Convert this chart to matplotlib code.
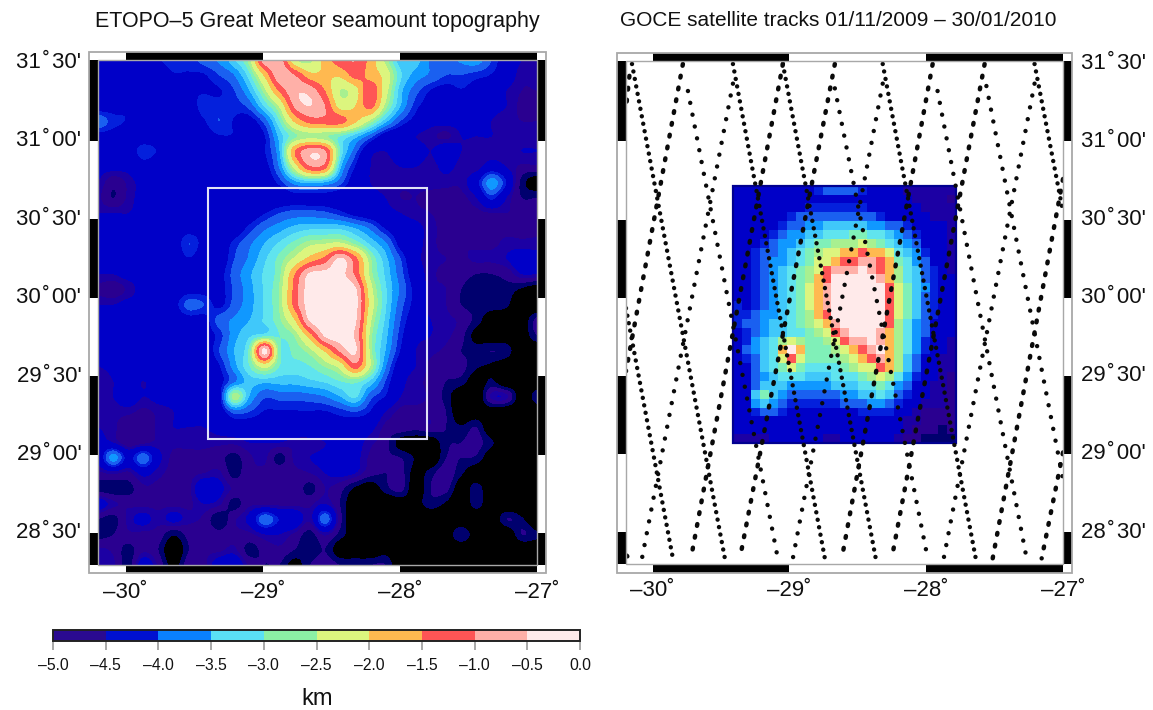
import numpy as np
import matplotlib
matplotlib.use("Agg")
import matplotlib.pyplot as plt
from matplotlib.colors import ListedColormap, BoundaryNorm
from matplotlib.patches import Rectangle
from matplotlib.colorbar import ColorbarBase

plt.rcParams['font.family'] = ['Liberation Sans', 'DejaVu Sans']

W, H = 1153, 710

title_left = "ETOPO–5 Great Meteor seamount topography"
title_right = "GOCE satellite tracks 01/11/2009 – 30/01/2010"
lon_ticks = [-30, -29, -28, -27]
lon_labels = ["–30˚", "–29˚", "–28˚", "–27˚"]
lat_ticks = [31.5, 31.0, 30.5, 30.0, 29.5, 29.0, 28.5]
lat_labels = ["31\u200a˚\u200a30'", "31\u200a˚\u200a00'", "30\u200a˚\u200a30'", "30\u200a˚\u200a00'",
              "29\u200a˚\u200a30'", "29\u200a˚\u200a00'", "28\u200a˚\u200a30'"]
cbar_ticks = [-5.0, -4.5, -4.0, -3.5, -3.0, -2.5, -2.0, -1.5, -1.0, -0.5, 0.0]
cbar_labels = ["–5.0", "–4.5", "–4.0", "–3.5", "–3.0", "–2.5", "–2.0", "–1.5", "–1.0", "–0.5", "0.0"]
cbar_colors = ["#2a0a90", "#0010d0", "#0a80ff", "#5ae0f5", "#8cf0a5", "#dcf57e",
               "#ffb950", "#ff5555", "#ffb0a8", "#ffeaea"]

map_levels = [-5.25, -5.0, -4.75, -4.6, -4.18, -4.0, -3.75, -3.5, -3.25, -3.0, -2.75,
              -2.5, -2.0, -1.5, -1.0, -0.5, 0.0]
map_colors = ["#00006e", "#2a0090", "#1c00a4", "#0000c8", "#0420dc", "#1a60f0", "#1098ff",
              "#40c8fa", "#60e4ee", "#80f0b8", "#a8f090", "#dcf57e", "#ffb950", "#ff5555",
              "#ffb0a8", "#ffeaea"]

box_lon = [-29.4, -27.8]
box_lat = [29.1, 30.7]

# depth in km, north to south, west to east
depth_km = [
 [-4.4,-4.3,-4.3,-4.3,-4.2,-4.1,-4.1,-3.9,-3.7,-3.3,-2.6,-0.7,-0.7,-2.4,-2.6,-1.8,-1.2,-1.0,-1.7,-2.6,-3.4,-3.4,-3.8,-3.85,-3.7,-3.6,-4.0,-4.4,-4.6,-4.7],
 [-4.5,-4.3,-4.3,-4.3,-4.3,-4.2,-4.2,-4.2,-4.0,-3.75,-3.1,-1.9,-0.6,-1.0,-1.8,-1.9,-1.9,-1.3,-1.7,-2.2,-3.2,-3.6,-3.8,-4.0,-4.0,-4.1,-4.2,-4.4,-4.7,-4.7],
 [-4.5,-4.3,-4.2,-4.3,-4.3,-4.3,-4.2,-4.2,-4.2,-4.0,-3.5,-2.6,-1.4,-0.6,-0.7,-1.5,-2.5,-2.2,-1.1,-2.3,-3.4,-3.9,-4.2,-4.3,-4.2,-4.3,-4.4,-4.6,-4.75,-4.75],
 [-4.4,-4.3,-4.2,-4.3,-4.3,-4.3,-4.3,-4.1,-4.1,-4.1,-3.9,-3.2,-2.4,-0.9,-0.5,-1.0,-2.2,-2.0,-1.3,-2.6,-3.5,-4.1,-4.3,-4.4,-4.3,-4.3,-4.5,-4.6,-4.8,-4.8],
 [-3.8,-4.1,-4.2,-4.3,-4.3,-4.3,-4.3,-4.2,-4.0,-4.2,-4.3,-3.9,-3.0,-1.9,-1.3,-1.2,-1.3,-1.9,-2.6,-3.4,-4.0,-4.3,-4.5,-4.5,-4.5,-4.5,-4.6,-4.7,-4.75,-4.75],
 [-4.3,-4.3,-4.3,-4.3,-4.3,-4.3,-4.3,-4.3,-4.2,-4.2,-4.3,-4.2,-3.4,-2.8,-2.6,-2.7,-3.0,-3.4,-3.9,-4.4,-4.5,-4.6,-4.7,-4.8,-4.6,-4.6,-4.6,-4.7,-4.7,-4.7],
 [-4.3,-4.3,-4.3,-4.1,-4.2,-4.3,-4.3,-4.3,-4.3,-4.4,-4.4,-4.2,-3.5,-1.5,-0.6,-0.9,-3.0,-3.9,-4.5,-4.6,-4.4,-4.4,-4.6,-4.3,-4.6,-4.7,-4.7,-4.7,-4.6,-4.6],
 [-4.5,-4.5,-4.5,-4.3,-4.4,-4.4,-4.4,-4.4,-4.4,-4.4,-4.4,-4.3,-3.7,-2.3,-1.1,-1.3,-3.4,-4.2,-4.6,-4.7,-4.6,-4.6,-4.7,-4.5,-4.7,-4.7,-4.4,-4.6,-4.8,-4.8],
 [-4.6,-4.9,-4.7,-4.5,-4.5,-4.4,-4.4,-4.4,-4.4,-4.5,-4.5,-4.4,-4.1,-3.6,-3.4,-3.5,-3.9,-4.4,-4.6,-4.7,-4.7,-4.7,-4.7,-4.7,-4.7,-4.3,-3.6,-4.2,-5.1,-5.5],
 [-4.7,-5.0,-4.7,-4.5,-4.5,-4.4,-4.3,-4.4,-4.5,-4.5,-4.5,-4.5,-4.4,-4.3,-4.3,-4.3,-4.4,-4.5,-4.5,-4.6,-4.75,-4.75,-4.8,-4.8,-4.8,-4.6,-4.1,-4.6,-5.0,-5.0],
 [-4.6,-4.6,-4.6,-4.5,-4.5,-4.4,-4.3,-4.3,-4.4,-4.4,-4.4,-4.2,-4.0,-3.9,-3.9,-3.95,-4.1,-4.3,-4.4,-4.5,-4.6,-4.7,-4.75,-4.8,-4.8,-4.8,-4.75,-4.75,-4.8,-4.9],
 [-4.5,-4.4,-4.5,-4.4,-4.2,-4.3,-4.3,-4.3,-4.4,-4.4,-4.1,-3.8,-3.6,-3.4,-3.3,-3.3,-3.3,-3.5,-3.8,-4.2,-4.4,-4.5,-4.7,-4.8,-4.8,-4.8,-4.8,-4.8,-4.8,-4.8],
 [-4.5,-4.5,-4.4,-4.4,-4.4,-4.4,-4.0,-4.3,-4.4,-4.1,-3.8,-3.5,-3.2,-2.9,-2.6,-2.5,-2.4,-2.8,-3.3,-3.7,-4.3,-4.5,-4.7,-4.8,-4.75,-4.8,-4.8,-4.7,-4.7,-4.7],
 [-4.5,-4.5,-4.4,-4.4,-4.4,-4.4,-4.2,-4.4,-4.4,-4.0,-3.7,-3.3,-2.9,-2.4,-1.8,-1.3,-0.4,-1.3,-2.7,-3.4,-4.0,-4.5,-4.7,-4.75,-4.8,-4.7,-4.7,-4.6,-4.4,-4.5],
 [-4.6,-4.6,-4.5,-4.5,-4.4,-4.4,-4.4,-4.4,-4.3,-3.9,-3.55,-3.2,-2.8,-1.5,-0.4,-0.3,-0.3,-1.1,-2.6,-3.3,-3.9,-4.4,-4.7,-4.8,-4.9,-5.0,-5.0,-4.9,-4.6,-4.6],
 [-4.8,-4.9,-4.7,-4.5,-4.4,-4.4,-4.3,-4.3,-4.3,-3.95,-3.6,-3.2,-2.7,-1.3,-0.2,-0.2,-0.2,-0.4,-2.3,-3.2,-3.8,-4.3,-4.7,-4.75,-5.0,-5.1,-5.1,-5.1,-5.3,-5.5],
 [-4.6,-4.6,-4.5,-4.5,-4.4,-4.3,-3.9,-4.0,-4.25,-3.9,-3.6,-3.2,-2.7,-1.3,-0.2,-0.1,-0.1,-0.3,-2.2,-3.2,-3.9,-4.3,-4.7,-4.75,-5.0,-5.1,-5.1,-5.2,-5.6,-5.6],
 [-4.5,-4.5,-4.4,-4.4,-4.4,-4.4,-4.3,-4.3,-3.9,-3.7,-3.5,-3.2,-2.8,-2.0,-0.4,-0.1,-0.1,-0.4,-2.4,-3.3,-4.0,-4.4,-4.6,-4.7,-4.8,-5.1,-5.5,-5.5,-5.5,-4.9],
 [-4.6,-4.4,-4.2,-4.4,-4.4,-4.3,-4.3,-4.3,-4.1,-3.6,-3.3,-3.1,-3.0,-2.7,-1.7,-0.4,-0.2,-0.6,-2.6,-3.4,-4.1,-4.5,-4.6,-4.7,-4.9,-5.4,-5.5,-5.5,-5.5,-5.0],
 [-4.4,-4.2,-4.4,-4.5,-4.5,-4.4,-4.4,-4.4,-4.0,-3.5,-2.9,-0.3,-2.9,-2.9,-2.6,-1.9,-0.9,-0.4,-2.6,-3.5,-4.2,-4.6,-4.7,-4.8,-5.0,-5.1,-5.0,-5.1,-5.6,-5.6],
 [-4.6,-4.5,-4.4,-4.4,-4.5,-4.4,-4.4,-4.4,-4.2,-3.6,-3.0,-2.3,-3.0,-3.1,-3.0,-2.7,-2.3,-1.2,-2.5,-3.7,-4.4,-4.6,-4.8,-4.9,-4.9,-5.2,-5.3,-5.5,-5.6,-5.6],
 [-4.7,-4.6,-4.5,-4.6,-4.5,-4.5,-4.5,-4.4,-4.3,-3.8,-3.4,-3.4,-3.4,-3.4,-3.3,-3.2,-3.0,-2.9,-3.3,-4.0,-4.5,-4.7,-4.8,-5.0,-5.1,-5.5,-5.2,-5.6,-5.5,-5.5],
 [-4.7,-4.6,-4.4,-4.6,-4.5,-4.5,-4.5,-4.5,-4.3,-2.6,-3.5,-3.95,-3.9,-3.9,-3.85,-3.75,-3.5,-3.2,-3.9,-4.2,-4.6,-4.7,-4.8,-5.1,-5.6,-5.6,-4.7,-4.7,-5.5,-5.1],
 [-4.7,-4.7,-4.7,-4.8,-4.7,-4.6,-4.5,-4.5,-4.4,-3.9,-4.0,-4.2,-4.2,-4.2,-4.2,-4.2,-4.1,-4.0,-4.2,-4.6,-4.8,-4.8,-4.8,-5.0,-5.6,-5.5,-5.5,-5.6,-5.6,-5.5],
 [-4.6,-4.7,-4.9,-4.9,-4.7,-4.6,-4.6,-4.6,-4.5,-4.4,-4.4,-4.4,-4.3,-4.3,-4.3,-4.3,-4.3,-4.4,-4.5,-4.8,-4.8,-4.9,-4.8,-5.0,-5.2,-5.0,-5.6,-5.6,-5.6,-5.6],
 [-4.5,-4.6,-4.9,-4.8,-4.7,-4.7,-4.7,-4.7,-4.7,-4.7,-4.6,-4.6,-4.6,-4.7,-4.7,-4.6,-4.5,-4.5,-4.7,-4.9,-5.4,-5.5,-5.5,-5.05,-5.0,-4.9,-5.2,-5.6,-5.6,-5.6],
 [-4.5,-3.6,-4.3,-3.8,-4.5,-4.8,-4.8,-4.8,-4.9,-5.1,-4.8,-4.7,-5.1,-4.7,-4.6,-4.5,-4.3,-4.5,-4.8,-4.95,-5.0,-5.3,-5.6,-5.0,-5.0,-5.05,-5.5,-5.3,-5.4,-5.6],
 [-4.8,-4.7,-4.8,-4.5,-4.7,-4.8,-4.8,-4.75,-4.7,-5.1,-4.8,-4.8,-4.8,-4.8,-4.75,-4.6,-4.5,-4.6,-4.9,-5.0,-4.9,-5.4,-5.1,-4.8,-5.2,-5.5,-5.5,-5.6,-5.6,-5.6],
 [-5.1,-5.15,-5.1,-4.8,-4.8,-4.8,-4.8,-4.3,-4.5,-4.8,-4.8,-4.8,-4.8,-4.8,-5.1,-4.75,-4.9,-5.3,-5.5,-5.1,-4.9,-5.5,-5.0,-4.9,-5.5,-5.1,-5.6,-5.6,-5.6,-5.6],
 [-4.4,-4.7,-4.8,-4.8,-4.8,-4.8,-4.8,-4.6,-4.7,-5.1,-4.8,-4.8,-4.8,-4.8,-4.8,-4.6,-5.0,-5.6,-5.6,-5.6,-5.5,-5.4,-5.1,-5.3,-5.6,-5.1,-5.6,-5.6,-5.6,-5.6],
 [-5.0,-5.1,-4.7,-4.5,-4.7,-4.5,-4.7,-4.8,-5.2,-4.8,-4.5,-3.8,-4.2,-4.3,-4.7,-3.8,-4.9,-5.6,-5.6,-5.3,-5.6,-5.6,-5.6,-5.6,-5.6,-5.6,-5.6,-5.0,-5.2,-5.6],
 [-5.1,-5.0,-4.8,-4.8,-4.85,-5.2,-4.9,-4.8,-4.9,-4.8,-4.8,-4.6,-4.6,-4.8,-5.1,-4.7,-5.1,-5.5,-5.6,-5.6,-5.6,-5.6,-5.6,-5.5,-5.0,-5.5,-5.6,-5.6,-5.0,-5.2],
 [-4.7,-4.8,-5.1,-4.8,-5.0,-5.6,-5.0,-4.8,-4.8,-4.7,-5.1,-4.9,-4.8,-5.0,-5.2,-5.0,-5.5,-5.6,-5.6,-5.4,-5.6,-5.6,-5.6,-5.6,-5.6,-5.6,-5.6,-5.6,-5.6,-5.5],
 [-4.6,-4.7,-5.1,-4.4,-4.8,-5.4,-4.8,-4.8,-4.4,-4.3,-4.8,-5.0,-5.0,-5.4,-5.0,-4.8,-5.0,-5.0,-5.0,-5.0,-5.6,-5.6,-5.6,-5.6,-5.6,-5.6,-5.6,-5.5,-5.6,-5.6],
]

# GOCE tracks: end points (lon, lat), grouped by dot style
tracks_dense = [
 ((-30.195, 29.933), (-29.852, 28.332)),
 ((-30.151, 31.496), (-29.472, 28.332)),
 ((-29.413, 31.496), (-28.741, 28.332)),
 ((-29.048, 31.496), (-28.369, 28.332)),
 ((-28.318, 31.496), (-27.638, 28.332)),
 ((-27.208, 31.496), (-27.000, 30.550)),
]
tracks_sparse = [
 ((-29.742, 31.323), (-29.085, 28.332)),
 ((-28.668, 31.340), (-27.989, 28.332)),
 ((-27.917, 31.323), (-27.266, 28.332)),
 ((-27.560, 31.355), (-27.000, 28.840)),
 ((-29.413, 31.370), (-30.078, 28.332)),
 ((-28.318, 31.370), (-28.975, 28.332)),
 ((-27.208, 31.370), (-27.872, 28.332)),
]
tracks_long = [
 ((-30.170, 31.420), (-30.195, 31.210)),
 ((-29.779, 31.496), (-30.195, 29.530)),
 ((-29.048, 31.496), (-29.720, 28.332)),
 ((-28.668, 31.496), (-29.362, 28.332)),
 ((-27.953, 31.496), (-28.617, 28.332)),
 ((-27.573, 31.496), (-28.252, 28.332)),
 ((-27.000, 30.760), (-27.514, 28.332)),
 ((-27.000, 29.010), (-27.156, 28.332)),
]
track_short_dot = [((-30.190, 28.350), (-30.185, 28.345))]


def px_axes(x0, y0, x1, y1):
    return fig.add_axes([x0 / W, 1 - y1 / H, (x1 - x0) / W, (y1 - y0) / H])


def draw_frame(ax, bw, bh):
    ink = "#a8a8a8"
    xlim, ylim = ax.get_xlim(), ax.get_ylim()
    xedges = [xlim[0]] + lon_ticks
    yedges = [ylim[1]] + lat_ticks[1:] + [ylim[0]]
    xt, yt = ax.get_xaxis_transform(), ax.get_yaxis_transform()
    for i in range(len(xedges) - 1):
        c = "black" if i % 2 == 1 else "white"
        for y0 in (1, -bh):
            ax.add_patch(Rectangle((xedges[i], y0), xedges[i + 1] - xedges[i], bh, transform=xt,
                                   fc=c, ec="none", clip_on=False, zorder=6))
    for j in range(len(yedges) - 1):
        c = "black" if j % 2 == 0 else "white"
        for x0 in (-bw, 1):
            ax.add_patch(Rectangle((x0, yedges[j + 1]), bw, yedges[j] - yedges[j + 1], transform=yt,
                                   fc=c, ec="none", clip_on=False, zorder=6))
    ax.add_patch(Rectangle((-bw, -bh), 1 + 2 * bw, 1 + 2 * bh, transform=ax.transAxes, fc="none",
                           ec=ink, lw=1.3, clip_on=False, zorder=8))
    ax.add_patch(Rectangle((0, 0), 1, 1, transform=ax.transAxes, fc="none",
                           ec=ink, lw=1.0, clip_on=False, zorder=7))
    ax.set_xticks([])
    ax.set_yticks([])
    for s in ax.spines.values():
        s.set_visible(False)


fig = plt.figure(figsize=(W / 100, H / 100), dpi=100, facecolor="white")

depth = np.array(depth_km)
lon_nodes = np.linspace(-30.2, -27.0, depth.shape[1])
lat_nodes = np.linspace(31.515, 28.296, depth.shape[0])
dlon = lon_nodes[1] - lon_nodes[0]
dlat = lat_nodes[0] - lat_nodes[1]

map_cmap = ListedColormap(map_colors)
map_cmap.set_under("black")
map_norm = BoundaryNorm(map_levels, map_cmap.N)

# left panel
ax1 = px_axes(98.3, 60, 537, 565)
ax1.imshow(depth, extent=[lon_nodes[0] - dlon / 2, lon_nodes[-1] + dlon / 2,
                          lat_nodes[-1] - dlat / 2, lat_nodes[0] + dlat / 2],
           cmap=map_cmap, norm=map_norm, interpolation="catrom", interpolation_stage="data",
           aspect="auto", origin="upper")
ax1.set_xlim(-30.2, -27.0)
ax1.set_ylim(28.296, 31.515)
ax1.add_patch(Rectangle((box_lon[0], box_lat[0]), box_lon[1] - box_lon[0], box_lat[1] - box_lat[0],
                        fc="none", ec="#e2e2f6", lw=1.5, zorder=4))
draw_frame(ax1, 9 / 438.7, 8 / 505)

# right panel
ax2 = px_axes(625.7, 61, 1063, 564)
ax2.set_facecolor("white")
cell_lon = np.linspace(-29.41, -27.78, 26)
cell_lat = np.linspace(30.717, 29.07, 30)
clon = (cell_lon[:-1] + cell_lon[1:]) / 2
clat = (cell_lat[:-1] + cell_lat[1:]) / 2
fi = (clon - lon_nodes[0]) / dlon
fj = (lat_nodes[0] - clat) / dlat
i0, j0 = np.floor(fi).astype(int), np.floor(fj).astype(int)
wi, wj = fi - i0, fj - j0
block = np.empty((clat.size, clon.size))
for r, (j, b) in enumerate(zip(j0, wj)):
    for c, (i, a) in enumerate(zip(i0, wi)):
        block[r, c] = ((1 - b) * ((1 - a) * depth[j, i] + a * depth[j, i + 1])
                       + b * ((1 - a) * depth[j + 1, i] + a * depth[j + 1, i + 1]))
block = np.maximum(block, -5.1)
ax2.pcolormesh(cell_lon, cell_lat, block, cmap=map_cmap, norm=map_norm, shading="flat", zorder=1)
ax2.add_patch(Rectangle((cell_lon[0], cell_lat[-1]), cell_lon[-1] - cell_lon[0], cell_lat[0] - cell_lat[-1],
                        fc="none", ec="#000090", lw=1.6, zorder=2))
ax2.set_xlim(-30.197, -27.0)
ax2.set_ylim(28.296, 31.515)
dot_lw = 3.2
for group, dash in ((tracks_dense, (0.01, 1.7)), (tracks_sparse, (0.01, 2.7)), (tracks_long, (0.4, 2.3))):
    for (a, b) in group:
        ax2.plot([a[0], b[0]], [a[1], b[1]], color="#0a0a0a", lw=dot_lw, ls=(0, dash),
                 dash_capstyle="round", zorder=3)
for (a, b) in track_short_dot:
    ax2.plot([a[0], b[0]], [a[1], b[1]], color="#0a0a0a", lw=dot_lw, solid_capstyle="round", zorder=3)
draw_frame(ax2, 8.7 / 437.3, 8.5 / 503)

# text
fig.text(317 / W, 1 - 21 / H, title_left, ha="center", va="center", fontsize=15.5, color="#111111")
fig.text(838 / W, 1 - 21 / H, title_right, ha="center", va="center", fontsize=15, color="#111111")

fs_tick = 16
for ax in (ax1, ax2):
    for lon, lab in zip(lon_ticks, lon_labels):
        ax.annotate(lab, xy=(lon, 0), xycoords=ax.get_xaxis_transform(), xytext=(0, -27),
                    textcoords="offset pixels", ha="center", va="center", fontsize=fs_tick,
                    annotation_clip=False, color="#111111")
for lat, lab in zip(lat_ticks, lat_labels):
    ax1.annotate(lab, xy=(0, lat), xycoords=ax1.get_yaxis_transform(), xytext=(-17, 0),
                 textcoords="offset pixels", ha="right", va="center", fontsize=fs_tick,
                 annotation_clip=False, color="#111111")
    ax2.annotate(lab, xy=(1, lat), xycoords=ax2.get_yaxis_transform(), xytext=(18, 0),
                 textcoords="offset pixels", ha="left", va="center", fontsize=fs_tick,
                 annotation_clip=False, color="#111111")

# colour bar
cax = px_axes(53, 629.5, 580, 641)
cb_cmap = ListedColormap(cbar_colors)
cb_norm = BoundaryNorm(cbar_ticks, cb_cmap.N)
cb = ColorbarBase(cax, cmap=cb_cmap, norm=cb_norm, orientation="horizontal", ticks=cbar_ticks, spacing="uniform")
cb.outline.set_edgecolor("#222222")
cb.outline.set_linewidth(1.4)
cb.ax.set_xticklabels(cbar_labels, fontsize=11.3, color="#111111")
cb.ax.tick_params(axis="x", length=6.5, width=1.2, color="#9a9a9a", pad=6)
fig.text(317 / W, 1 - 699 / H, "km", ha="center", va="center", fontsize=17, color="#111111")

fig.savefig("out.png", dpi=100, facecolor="white")
